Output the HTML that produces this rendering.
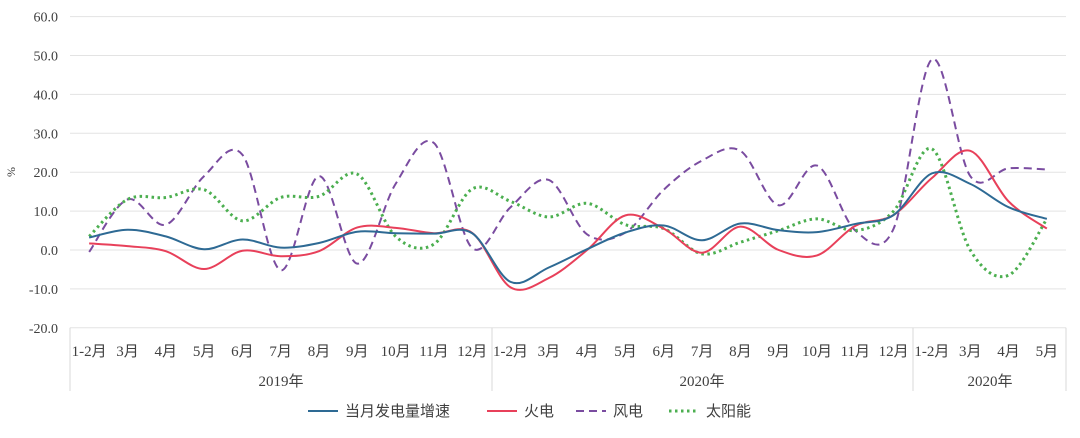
<!DOCTYPE html>
<html><head><meta charset="utf-8">
<style>
html,body{margin:0;padding:0;background:#fff;width:1080px;height:438px;overflow:hidden}
svg text{font-family:"Liberation Serif","Noto Sans CJK SC",serif;fill:#404040}
</style></head><body>
<svg id="c" width="1080" height="438" xmlns="http://www.w3.org/2000/svg"></svg>
<script>
const svg=document.getElementById('c');
const NS='http://www.w3.org/2000/svg';
function el(t,a,txt){const e=document.createElementNS(NS,t);for(const k in a)e.setAttribute(k,a[k]);if(txt!==undefined)e.textContent=txt;svg.appendChild(e);return e;}
const L=70,R=1066,Y0=250,PU=3.89;
const y=v=>Y0-v*PU;
const x=i=>L+(R-L)/26*(i+0.5);
for(let v=-20;v<=60;v+=10){
  el('line',{x1:L,x2:R,y1:y(v),y2:y(v),stroke:'#e3e3e3','stroke-width':1});
  el('text',{x:58,y:y(v)+5,'text-anchor':'end','font-size':14},v.toFixed(1));
}
el('text',{x:15,y:172,'font-size':12,'text-anchor':'middle',transform:'rotate(-90 15 172)'},'%');
[L,492,913,R].forEach(xx=>el('line',{x1:xx,x2:xx,y1:y(-20),y2:391,stroke:'#d9d9d9'}));
const labs=['1-2月','3月','4月','5月','6月','7月','8月','9月','10月','11月','12月'];
const all=[...labs,...labs,'1-2月','3月','4月','5月'];
all.forEach((s,i)=>el('text',{x:x(i),y:356,'text-anchor':'middle','font-size':15},s));
el('text',{x:281,y:386,'text-anchor':'middle','font-size':15},'2019年');
el('text',{x:702,y:386,'text-anchor':'middle','font-size':15},'2020年');
el('text',{x:990,y:386,'text-anchor':'middle','font-size':15},'2020年');
function path(d){
  const p=d.map((v,i)=>[x(i),y(v)]);
  let s='M'+p[0][0]+','+p[0][1];
  for(let i=0;i<p.length-1;i++){
    const p0=p[i-1]||p[i],p1=p[i],p2=p[i+1],p3=p[i+2]||p2;
    const c1=[p1[0]+(p2[0]-p0[0])/6,p1[1]+(p2[1]-p0[1])/6];
    const c2=[p2[0]-(p3[0]-p1[0])/6,p2[1]-(p3[1]-p1[1])/6];
    s+=` C${c1[0]},${c1[1]} ${c2[0]},${c2[1]} ${p2[0]},${p2[1]}`;
  }
  return s;
}
const series=[
 {d:[-0.5,13,6.5,19,24.5,-5.2,19,-3.5,17,27.5,0.5,11,18,4,4.5,15.5,23,25.5,11.5,21.7,5,5.5,49,19,21,20.7],c:'#7a4ca0',da:'8,5'},
 {d:[3.5,13,13.5,15.5,7.5,13.5,13.8,19.5,3.5,1.5,15.7,12.5,8.5,12,6.5,5.5,-1,2,5,8,5,10,26,0,-6.5,8],c:'#4caf50',da:'2.5,3.5',w:3},
 {d:[1.7,1,-0.3,-4.9,-0.2,-1.6,-0.3,5.8,5.7,4.3,4.4,-9.6,-7.2,0,8.9,5.5,-0.7,6,0,-1.4,6.2,9,18.5,25.5,12.5,5.5],c:'#e8405a'},
 {d:[3.2,5.2,3.5,0.2,2.7,0.6,1.8,4.7,4.3,4.2,4.3,-8.2,-4.5,0.2,4.5,6.3,2.5,6.8,5.1,4.6,6.7,9,19.7,17,11,8],c:'#2e6a94'}
];
series.forEach(s=>el('path',{d:path(s.d),fill:'none',stroke:s.c,'stroke-width':s.w||2,'stroke-dasharray':s.da||'none'}));
const lg=[[308,'#2e6a94','当月发电量增速',null],[487,'#e8405a','火电',null],[576,'#7a4ca0','风电','8,5'],[669,'#4caf50','太阳能','2.5,3.5']];
lg.forEach(([lx,c,t,da])=>{el('line',{x1:lx,x2:lx+30,y1:411,y2:411,stroke:c,'stroke-width':da&&da[0]=='2'?3:2,'stroke-dasharray':da||'none'});el('text',{x:lx+37,y:416,'font-size':15},t);});
</script>
</body></html>
